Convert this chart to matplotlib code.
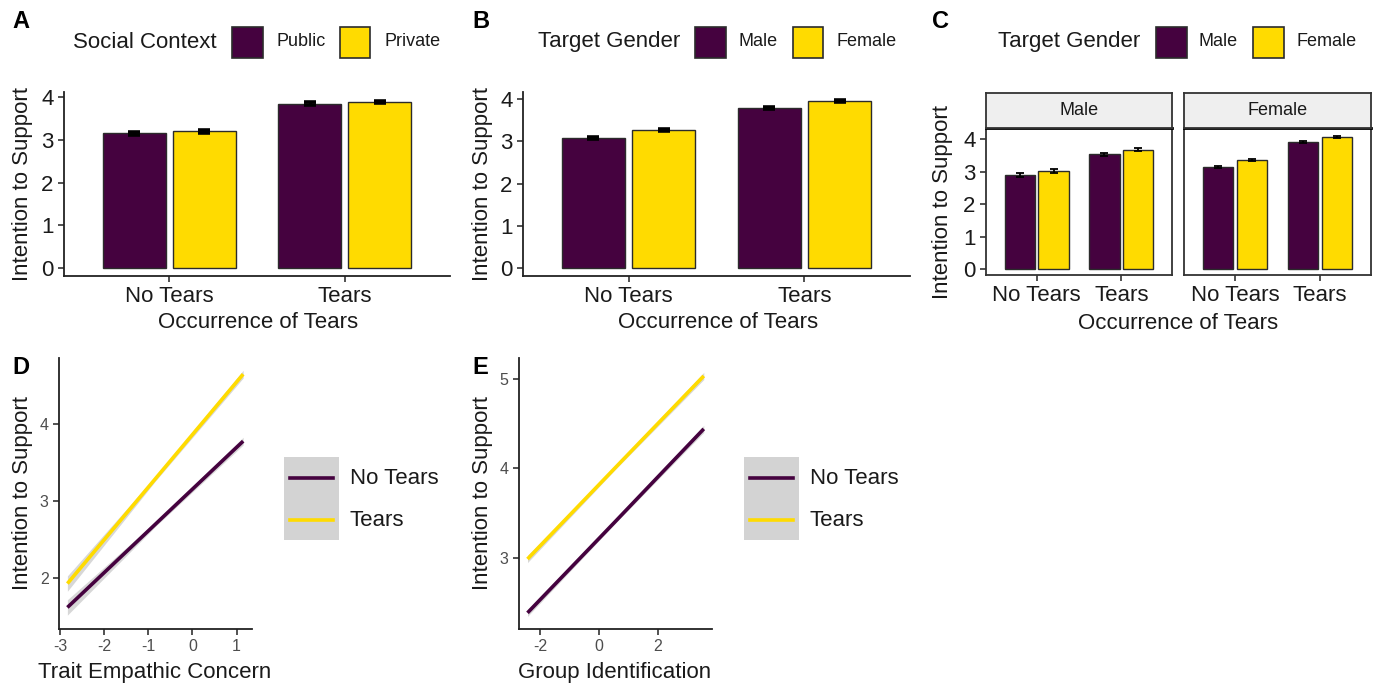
"""Tears and intention to support: bar panels A-C and slope panels D-E."""
import matplotlib
matplotlib.use("Agg")
import matplotlib.pyplot as plt
from matplotlib.patches import Rectangle
import numpy as np

plt.rcParams["font.family"] = ["Liberation Sans", "DejaVu Sans"]

W, H = 1378, 684
PURPLE = "#45023F"
YELLOW = "#FFDB00"
EDGE = "#2B2B2B"

# ---------------- data ----------------
tears_levels = ["No Tears", "Tears"]

# panel A: social context
context_levels = ["Public", "Private"]
a_public = [3.15, 3.85]
a_private = [3.20, 3.89]
a_public_se = [0.03, 0.03]
a_private_se = [0.03, 0.03]

# panel B: target gender
gender_levels = ["Male", "Female"]
b_male = [3.08, 3.79]
b_female = [3.27, 3.96]
b_male_se = [0.03, 0.03]
b_female_se = [0.03, 0.03]

# panel C: target gender by participant gender facet
facet_levels = ["Male", "Female"]
c_male = [[2.90, 3.54], [3.16, 3.91]]
c_female = [[3.02, 3.68], [3.37, 4.08]]
c_male_se = [[0.05, 0.05], [0.03, 0.03]]
c_female_se = [[0.06, 0.05], [0.03, 0.03]]

# panel D: trait empathic concern (fitted lines with ribbon half-widths)
d_x = [-2.83, -0.84, 1.15]
d_notears = [1.62, 2.70, 3.78]
d_tears = [1.93, 3.29, 4.65]
d_notears_ci = [0.10, 0.03, 0.05]
d_tears_ci = [0.10, 0.03, 0.05]

# panel E: group identification
e_x = [-2.44, 0.56, 3.57]
e_notears = [2.39, 3.41, 4.44]
e_tears = [2.99, 4.01, 5.03]
e_notears_ci = [0.04, 0.02, 0.04]
e_tears_ci = [0.04, 0.02, 0.04]


fig = plt.figure(figsize=(W / 100, H / 100), dpi=100)


def px_axes(l, t, r, b):
    """Add axes from pixel box (left, top, right, bottom)."""
    return fig.add_axes([l / W, 1 - b / H, (r - l) / W, (b - t) / H])


def fig_text(x, y, s, **kw):
    fig.text(x / W, 1 - y / H, s, **kw)


def style_axes(ax, color="#222222"):
    for side in ["top", "right"]:
        ax.spines[side].set_visible(False)
    for side in ["left", "bottom"]:
        ax.spines[side].set_color(color)
        ax.spines[side].set_linewidth(1.3)
    ax.tick_params(length=4, width=1.2, color="#333333")


def box_legend(title, labels, colors, x_title, boxes, x_labels, y_mid):
    fig_text(x_title, y_mid, title, fontsize=16, va="center", ha="left",
             color="#1A1A1A")
    for (x0, x1), col, lab, xl in zip(boxes, colors, labels, x_labels):
        fig.patches.append(Rectangle((x0 / W, 1 - (y_mid + 15.5) / H),
                                     (x1 - x0) / W, 31 / H,
                                     facecolor=col, edgecolor=EDGE, lw=1.2,
                                     transform=fig.transFigure))
        fig_text(xl, y_mid, lab, fontsize=13, va="center", ha="left",
                 color="#1A1A1A")


def bar_pair(ax, v1, v2, s1, s2, err_kw):
    x = np.arange(1, len(tears_levels) + 1)
    ax.bar(x - 0.2, v1, width=0.36, color=PURPLE, edgecolor=EDGE, lw=1)
    ax.bar(x + 0.2, v2, width=0.36, color=YELLOW, edgecolor=EDGE, lw=1)
    ax.errorbar(x - 0.2, v1, yerr=s1, fmt="none", ecolor="black", **err_kw)
    ax.errorbar(x + 0.2, v2, yerr=s2, fmt="none", ecolor="black", **err_kw)
    ax.set_xlim(0.4, 2.6)
    ax.set_xticks(x)
    ax.set_xticklabels(tears_levels)
    ax.set_yticks([0, 1, 2, 3, 4])


def set_labels(ax, box, xlab, xl_cx, xl_top, ylab, yl_right, yl_cy,
               size=16):
    l, t, r, b = box
    ax.set_xlabel(xlab, fontsize=size, color="#1A1A1A")
    ax.xaxis.set_label_coords((xl_cx - l) / (r - l), 1 - (xl_top - t) / (b - t))
    ax.xaxis.label.set_va("top")
    ax.set_ylabel(ylab, fontsize=size, color="#1A1A1A")
    ax.yaxis.set_label_coords((yl_right - l) / (r - l), 1 - (yl_cy - t) / (b - t))


thick_err = dict(elinewidth=2.2, capsize=4.5, capthick=2.6)

# ---------------- panel A ----------------
box_a = (64, 92, 450, 276)
ax_a = px_axes(*box_a)
bar_pair(ax_a, a_public, a_private, a_public_se, a_private_se, thick_err)
ax_a.set_ylim(-0.19, 4.12)
style_axes(ax_a)
ax_a.tick_params(labelsize=16, labelcolor="#1A1A1A")
set_labels(ax_a, box_a, "Occurrence of Tears", 258, 312,
           "Intention to Support", 33, 184)
box_legend("Social Context", context_levels, [PURPLE, YELLOW], 73,
           [(232, 263), (340, 370)], [276, 384], 42)
fig_text(12, 22, "A", fontsize=17, fontweight="bold", va="center")

# ---------------- panel B ----------------
box_b = (523, 92, 910, 276)
ax_b = px_axes(*box_b)
bar_pair(ax_b, b_male, b_female, b_male_se, b_female_se, thick_err)
ax_b.set_ylim(-0.19, 4.17)
style_axes(ax_b)
ax_b.tick_params(labelsize=16, labelcolor="#1A1A1A")
set_labels(ax_b, box_b, "Occurrence of Tears", 718, 312,
           "Intention to Support", 493, 184)
box_legend("Target Gender", gender_levels, [PURPLE, YELLOW], 538,
           [(695, 726), (793, 823)], [739, 837], 42)
fig_text(472, 22, "B", fontsize=17, fontweight="bold", va="center")

# ---------------- panel C ----------------
facet_boxes = [(986, 128, 1172, 275), (1184, 128, 1371, 275)]
thin_err = dict(elinewidth=1.3, capsize=3, capthick=1.3)
for i, fbox in enumerate(facet_boxes):
    ax = px_axes(*fbox)
    bar_pair(ax, c_male[i], c_female[i], c_male_se[i], c_female_se[i],
             thin_err)
    ax.set_ylim(-0.175, 4.35)
    for side in ax.spines.values():
        side.set_color("#333333")
        side.set_linewidth(1.3)
    ax.spines["top"].set_color("black")
    ax.spines["top"].set_linewidth(2)
    ax.tick_params(length=4, width=1.2, color="#333333", labelsize=16,
                   labelcolor="#1A1A1A")
    if i == 0:
        ax_c = ax
    else:
        ax.tick_params(axis="y", left=False, labelleft=False)
    # strip
    l, t, r, b = fbox
    strip = px_axes(l, 93, r, 128)
    strip.set_facecolor("#EFEFEF")
    strip.set_xticks([])
    strip.set_yticks([])
    for side in strip.spines.values():
        side.set_color("#333333")
        side.set_linewidth(1.3)
    strip.text(0.5, 0.5, facet_levels[i], transform=strip.transAxes,
               ha="center", va="center", fontsize=13, color="#1A1A1A")

fig_text(1178, 313, "Occurrence of Tears", fontsize=16, ha="center",
         va="top", color="#1A1A1A")
fig_text(943, 202, "Intention to Support", fontsize=16, ha="center",
         va="center", rotation=90, color="#1A1A1A")
box_legend("Target Gender", gender_levels, [PURPLE, YELLOW], 998,
           [(1156, 1187), (1253, 1284)], [1199, 1297], 42)
fig_text(932, 22, "C", fontsize=17, fontweight="bold", va="center")


# ---------------- panels D and E ----------------
def slope_panel(box, xs, y_no, y_yes, ci_no, ci_yes, xlim, ylim, xticks,
                yticks, xlab, xl_cx, letter, dx):
    ax = px_axes(*box)
    xs = np.array(xs)
    for ys, ci, col in [(y_no, ci_no, PURPLE), (y_yes, ci_yes, YELLOW)]:
        ys = np.array(ys)
        ci = np.array(ci)
        ax.fill_between(xs, ys - ci, ys + ci, color="#BDBDBD", alpha=0.6,
                        lw=0)
        ax.plot(xs, ys, color=col, lw=2.6, solid_capstyle="butt")
    ax.set_xlim(*xlim)
    ax.set_ylim(*ylim)
    ax.set_xticks(xticks)
    ax.set_xticklabels([str(v) for v in xticks])
    ax.set_yticks(yticks)
    style_axes(ax)
    ax.tick_params(labelsize=11.5, labelcolor="#4D4D4D")
    set_labels(ax, box, xlab, xl_cx, 662, "Intention to Support",
               33 + dx, 493)
    # legend: grey key background with line keys
    lg = px_axes(284 + dx, 457, 339 + dx, 540)
    lg.set_facecolor("#D3D3D3")
    for s in lg.spines.values():
        s.set_visible(False)
    lg.set_xticks([])
    lg.set_yticks([])
    lg.set_xlim(0, 55)
    lg.set_ylim(0, 83)
    lg.plot([6, 49], [83 - 20.7, 83 - 20.7], color=PURPLE, lw=2.6)
    lg.plot([6, 49], [83 - 63, 83 - 63], color=YELLOW, lw=2.6)
    fig_text(350 + dx, 478, tears_levels[0], fontsize=16, va="center",
             color="#1A1A1A")
    fig_text(350 + dx, 520, tears_levels[1], fontsize=16, va="center",
             color="#1A1A1A")
    fig_text(12 + dx, 368, letter, fontsize=17, fontweight="bold",
             va="center")
    return ax


slope_panel((59, 358, 252, 629), d_x, d_notears, d_tears, d_notears_ci,
            d_tears_ci, (-3.02, 1.35), (1.34, 4.86), [-3, -2, -1, 0, 1],
            [2, 3, 4], "Trait Empathic Concern", 155, "D", 0)
slope_panel((519, 358, 712, 629), e_x, e_notears, e_tears, e_notears_ci,
            e_tears_ci, (-2.73, 3.85), (2.21, 5.23), [-2, 0, 2],
            [3, 4, 5], "Group Identification", 615, "E", 460)

fig.savefig("out.png", dpi=100, facecolor="white")
